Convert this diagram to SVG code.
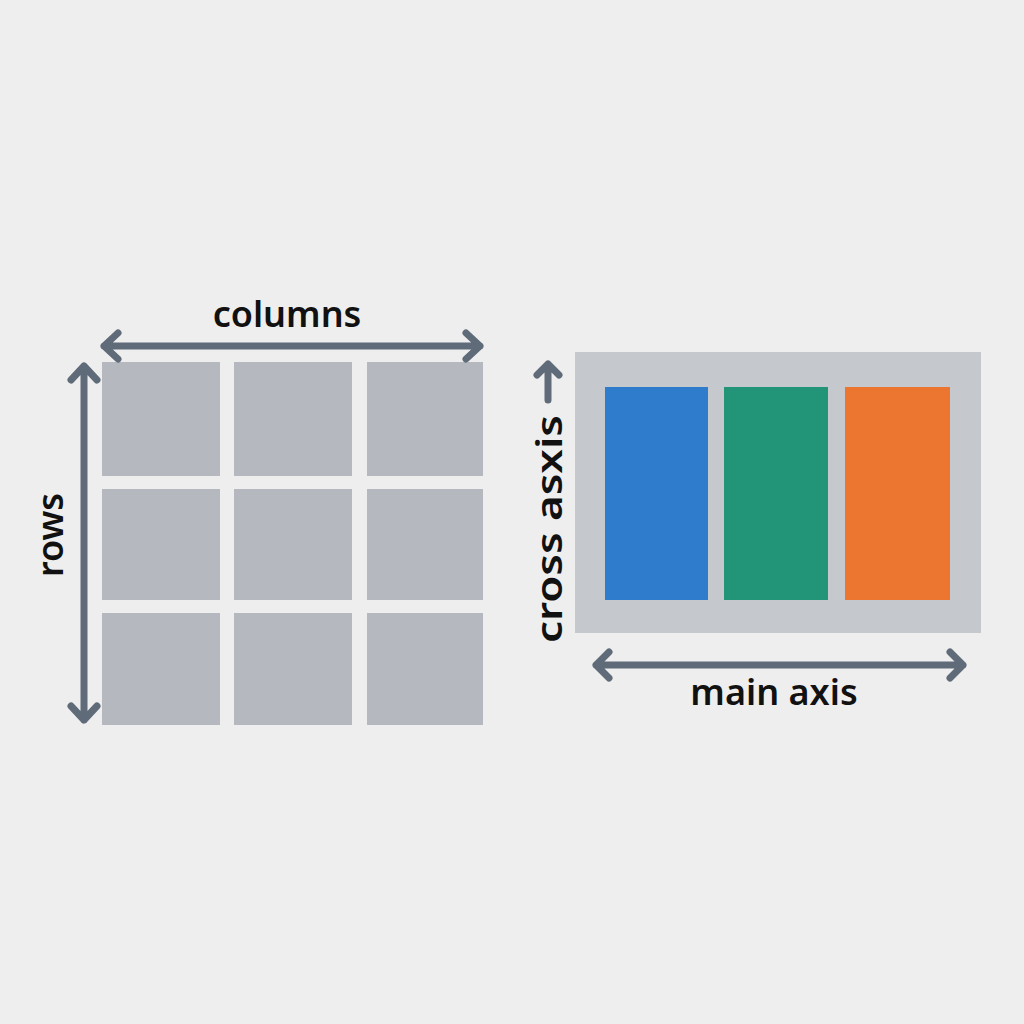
<svg xmlns="http://www.w3.org/2000/svg" width="1024" height="1024" viewBox="0 0 1024 1024">
<defs>
<style>
.cell{fill:#b5b8bf}
.arr{stroke:#5f6b78;stroke-width:7;stroke-linecap:round;stroke-linejoin:round;fill:none}
.lbl{font-family:"Noto Sans","Open Sans",sans-serif;font-weight:600;font-size:36px;fill:#111}
</style>
</defs>
<rect width="1024" height="1024" fill="#efeeee"/>
<g id="grid">
<rect class="cell" x="102" y="362" width="118" height="114"/>
<rect class="cell" x="234" y="362" width="118" height="114"/>
<rect class="cell" x="367" y="362" width="116" height="114"/>
<rect class="cell" x="102" y="489" width="118" height="111"/>
<rect class="cell" x="234" y="489" width="118" height="111"/>
<rect class="cell" x="367" y="489" width="116" height="111"/>
<rect class="cell" x="102" y="613" width="118" height="112"/>
<rect class="cell" x="234" y="613" width="118" height="112"/>
<rect class="cell" x="367" y="613" width="116" height="112"/>
</g>
<g id="flex">
<rect x="575" y="352" width="406" height="281" fill="#c5c8cd"/>
<rect x="605" y="387" width="103" height="213" fill="#2f7bcc"/>
<rect x="724" y="387" width="104" height="213" fill="#229478"/>
<rect x="845" y="387" width="105" height="213" fill="#ec7630"/>
</g>
<g id="connectors">
<path class="arr" d="M104 346 H480 M118 333 L104 346 L118 359 M466 333 L480 346 L466 359"/>
<path class="arr" d="M84 366 V720 M71 380 L84 366 L97 380 M71 706 L84 720 L97 706"/>
<path class="arr" d="M548 364 V400 M537 375 L548 364 L559 375"/>
<path class="arr" d="M596 665 H963 M609 652 L596 665 L609 678 M950 652 L963 665 L950 678"/>
</g>
<g id="labels">
<text class="lbl" x="287" y="327" text-anchor="middle">columns</text>
<text class="lbl" transform="translate(63 535) rotate(-90)" text-anchor="middle">rows</text>
<text class="lbl" transform="translate(562 529) rotate(-90)" text-anchor="middle" textLength="228" lengthAdjust="spacingAndGlyphs">cross asxis</text>
<text class="lbl" x="774" y="705" text-anchor="middle">main axis</text>
</g>
</svg>
